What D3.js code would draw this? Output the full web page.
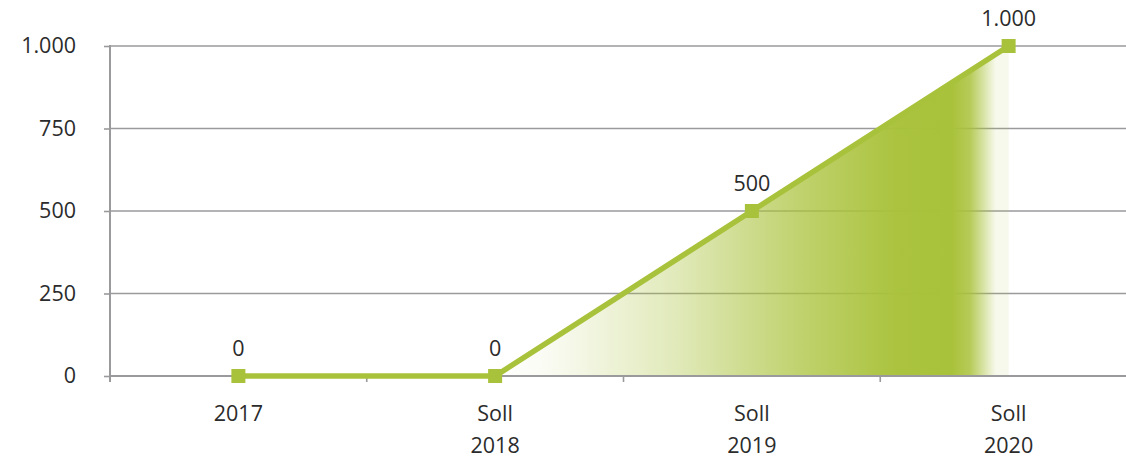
<!DOCTYPE html>
<html>
<head>
<meta charset="utf-8">
<script src="https://cdn.jsdelivr.net/npm/d3@7"></script>
<style>
  html, body { margin: 0; padding: 0; background: #fff; }
  svg text { font-family: "Open Sans", "Noto Sans", sans-serif; fill: #2b2b2b; }
</style>
</head>
<body>
<svg id="chart" width="1126" height="460"></svg>
<script>
// Categories (two-line labels) and values
const categories = ["2017", "Soll 2018", "Soll 2019", "Soll 2020"];
const categoryLines = [["2017"], ["Soll", "2018"], ["Soll", "2019"], ["Soll", "2020"]];
const values = [0, 0, 500, 1000];
const yTicks = [0, 250, 500, 750, 1000];

const fmt = v => d3.format(",")(v).replace(/,/g, ".");
const fontSize = 21.5;

const svg = d3.select("#chart");
const plotLeft = 110, plotRight = 1137, plotTop = 46, plotBottom = 376;

const x = d3.scaleBand().domain(categories).range([plotLeft, plotRight]).paddingInner(0).paddingOuter(0);
const y = d3.scaleLinear().domain([0, 1000]).range([plotBottom, plotTop]);
const cx = c => x(c) + x.bandwidth() / 2;

const green = "#a9c23b";
const gridColor = "#9a9a9c";

// Gradient for the area beneath the rising segment
const defs = svg.append("defs");
const grad = defs.append("linearGradient")
  .attr("id", "areaGrad")
  .attr("gradientUnits", "userSpaceOnUse")
  .attr("x1", cx(categories[1])).attr("x2", cx(categories[3]))
  .attr("y1", 0).attr("y2", 0);
[
  [0.00, 0.0],
  [0.10, 0.06],
  [0.35, 0.35],
  [0.60, 0.75],
  [0.78, 0.98],
  [0.89, 1.0],
  [0.925, 0.85],
  [0.955, 0.4],
  [0.972, 0.14],
  [0.975, 0.1],
  [1.00, 0.1]
].forEach(([o, a]) => grad.append("stop").attr("offset", o).attr("stop-color", green).attr("stop-opacity", a));

// Horizontal gridlines
svg.append("g").selectAll("line").data(yTicks.filter(t => t > 0)).join("line")
  .attr("x1", plotLeft).attr("x2", plotRight)
  .attr("y1", d => y(d)).attr("y2", d => y(d))
  .attr("stroke", gridColor).attr("stroke-width", 1.6);

// Area under the line from the second point on
const areaData = categories.map((c, i) => ({ c, v: values[i] })).slice(1);
svg.append("path")
  .datum(areaData)
  .attr("fill", "url(#areaGrad)")
  .attr("d", d3.area().x(d => cx(d.c)).y0(y(0)).y1(d => y(d.v)));

// Y axis
const yAxis = svg.append("g")
  .attr("transform", `translate(${plotLeft},0)`)
  .call(d3.axisLeft(y).tickValues(yTicks).tickFormat(fmt).tickSize(6).tickPadding(28));
yAxis.select(".domain").attr("stroke", gridColor).attr("stroke-width", 2)
  .attr("d", `M0,${y(1000) - 1}V${y(0) + 6}`);
yAxis.selectAll(".tick line").attr("stroke", gridColor).attr("stroke-width", 1.6);
yAxis.selectAll(".tick text").attr("font-size", fontSize).attr("fill", "#2b2b2b")
  .attr("font-family", "'Open Sans', sans-serif");

// X axis with ticks at category boundaries
const xAxis = svg.append("g").attr("transform", `translate(0,${plotBottom})`);
xAxis.append("line").attr("x1", plotLeft).attr("x2", plotRight).attr("y1", 0).attr("y2", 0)
  .attr("stroke", gridColor).attr("stroke-width", 2);
xAxis.selectAll("line.tk").data(categories).join("line").attr("class", "tk")
  .attr("x1", d => x(d)).attr("x2", d => x(d)).attr("y1", 0).attr("y2", 6)
  .attr("stroke", gridColor).attr("stroke-width", 1.6);
const xl = xAxis.selectAll("text.cat").data(categories).join("text").attr("class", "cat")
  .attr("text-anchor", "middle").attr("font-size", fontSize)
  .attr("x", d => cx(d));
xl.each(function (d, i) {
  const t = d3.select(this);
  categoryLines[i].forEach((line, j) => {
    t.append("tspan").attr("x", cx(d)).attr("y", 45 + j * 32).text(line);
  });
});

// Line
const pts = categories.map((c, i) => ({ c, v: values[i] }));
svg.append("path").datum(pts)
  .attr("fill", "none").attr("stroke", green).attr("stroke-width", 5.5)
  .attr("stroke-linejoin", "miter")
  .attr("d", d3.line().x(d => cx(d.c)).y(d => y(d.v)));

// Square markers
svg.append("g").selectAll("rect").data(pts).join("rect")
  .attr("x", d => cx(d.c) - 7).attr("y", d => y(d.v) - 7)
  .attr("width", 14).attr("height", 14).attr("fill", green);

// Value labels
svg.append("g").selectAll("text").data(pts).join("text")
  .attr("x", d => cx(d.c)).attr("y", d => y(d.v) - 20)
  .attr("text-anchor", "middle").attr("font-size", fontSize)
  .text(d => fmt(d.v));
</script>
</body>
</html>
